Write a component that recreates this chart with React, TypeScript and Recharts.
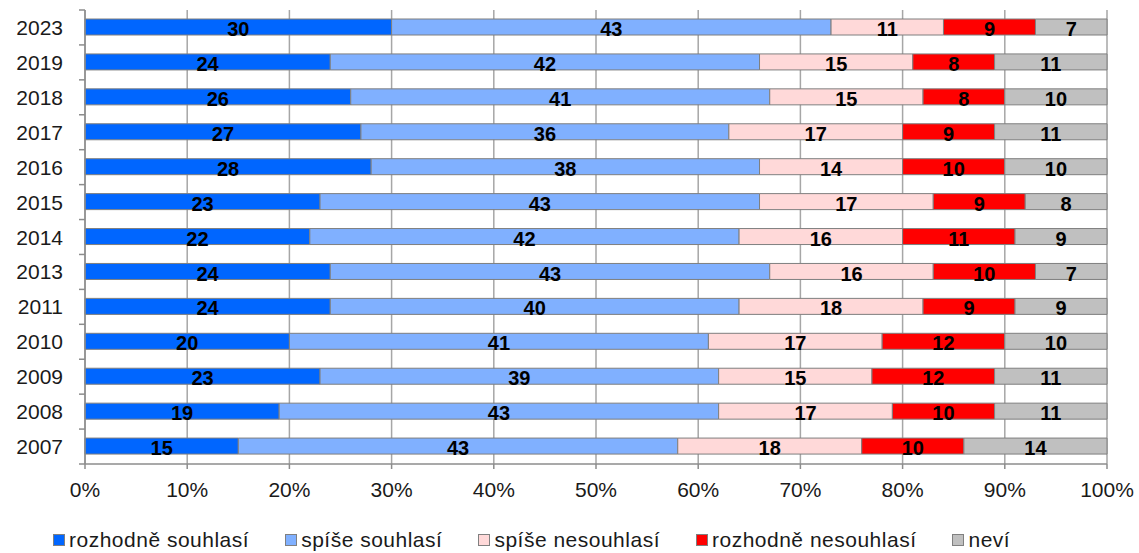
import { BarChart, Bar, XAxis, YAxis, CartesianGrid, Legend, LabelList } from 'recharts';

const years = ['2023', '2019', '2018', '2017', '2016', '2015', '2014', '2013', '2011', '2010', '2009', '2008', '2007'];
const definitelyAgree = [30, 24, 26, 27, 28, 23, 22, 24, 24, 20, 23, 19, 15];
const ratherAgree = [43, 42, 41, 36, 38, 43, 42, 43, 40, 41, 39, 43, 43];
const ratherDisagree = [11, 15, 15, 17, 14, 17, 16, 16, 18, 17, 15, 17, 18];
const definitelyDisagree = [9, 8, 8, 9, 10, 9, 11, 10, 9, 12, 12, 10, 10];
const dontKnow = [7, 11, 10, 11, 10, 8, 9, 7, 9, 10, 11, 11, 14];
const xTicks = [0, 10, 20, 30, 40, 50, 60, 70, 80, 90, 100];

const series = [
  { key: 'a', name: 'rozhodně souhlasí', color: '#0066ff' },
  { key: 'b', name: 'spíše souhlasí', color: '#80b0ff' },
  { key: 'c', name: 'spíše nesouhlasí', color: '#ffd9d9' },
  { key: 'd', name: 'rozhodně nesouhlasí', color: '#ff0000' },
  { key: 'e', name: 'neví', color: '#c0c0c0' },
];

const data = years.map((year, i) => ({
  year,
  a: definitelyAgree[i],
  b: ratherAgree[i],
  c: ratherDisagree[i],
  d: definitelyDisagree[i],
  e: dontKnow[i],
}));

const FONT = '"Liberation Sans", Arial, sans-serif';
const AXIS_GRAY = '#8c8c8c';
const TICK_GAP = 22;

// year label plus the little tick marks between categories
function YearTick(props: any) {
  const { x, y, payload, index, visibleTicksCount } = props;
  const half = payload?.offset ?? 17.5;
  const axisX = x + TICK_GAP;
  return (
    <g>
      <text x={x} y={y} dy="0.36em" textAnchor="end" fontSize={21} fontFamily={FONT} fill="#1a1a1a">
        {payload.value}
      </text>
      <line x1={axisX - 6} x2={axisX} y1={y - half} y2={y - half} stroke={AXIS_GRAY} strokeWidth={1.5} />
      {index === visibleTicksCount - 1 && (
        <line x1={axisX - 6} x2={axisX} y1={y + half} y2={y + half} stroke={AXIS_GRAY} strokeWidth={1.5} />
      )}
    </g>
  );
}

function LegendContent() {
  return (
    <div
      style={{
        display: 'flex',
        gap: 36,
        paddingLeft: 53,
        paddingTop: 24,
        fontFamily: FONT,
        fontSize: 21,
        letterSpacing: 0.5,
        color: '#1a1a1a',
      }}
    >
      {series.map((s) => (
        <div key={s.key} style={{ display: 'flex', alignItems: 'center' }}>
          <span style={{ width: 10, height: 10, background: s.color, border: '1px solid #808080', marginRight: 4 }} />
          <span>{s.name}</span>
        </div>
      ))}
    </div>
  );
}

export default function App() {
  return (
    <div style={{ position: 'absolute', left: 0, top: 0, background: '#fff' }}>
      <BarChart
        width={1139}
        height={553}
        data={data}
        layout="vertical"
        margin={{ top: 10, right: 32, left: 0, bottom: 0 }}
        barSize={16}
      >
        <CartesianGrid horizontal={false} stroke="#a6a6a6" strokeWidth={1.5} />
        <XAxis
          type="number"
          domain={[0, 100]}
          ticks={xTicks}
          tickFormatter={(v: number) => `${v}%`}
          tick={{ fontSize: 21, fill: '#1a1a1a', fontFamily: FONT }}
          tickSize={5}
          tickMargin={13}
          tickLine={{ stroke: AXIS_GRAY, strokeWidth: 1.5 }}
          axisLine={{ stroke: AXIS_GRAY, strokeWidth: 1.5 }}
          height={40}
          interval={0}
        />
        <YAxis
          type="category"
          dataKey="year"
          width={85}
          tickLine={false}
          tickSize={0}
          tickMargin={TICK_GAP}
          axisLine={{ stroke: AXIS_GRAY, strokeWidth: 1.5 }}
          tick={<YearTick />}
          interval={0}
        />
        <Legend verticalAlign="bottom" height={49} content={<LegendContent />} />
        {series.map((s) => (
          <Bar
            key={s.key}
            dataKey={s.key}
            name={s.name}
            stackId="all"
            fill={s.color}
            stroke="#7f7f7f"
            strokeWidth={1}
            isAnimationActive={false}
          >
            <LabelList
              dataKey={s.key}
              position="center"
              fill="#000"
              fontSize={20}
              fontWeight="bold"
              fontFamily={FONT}
              dy={2}
            />
          </Bar>
        ))}
      </BarChart>
    </div>
  );
}
